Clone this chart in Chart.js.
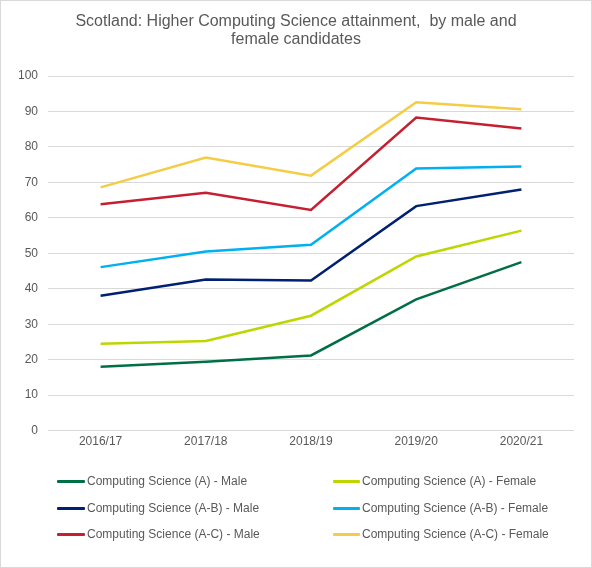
<!DOCTYPE html>
<html>
<head>
<meta charset="utf-8">
<script src="https://cdn.jsdelivr.net/npm/chart.js@4/dist/chart.umd.min.js"></script>
<style>
  html, body { margin: 0; padding: 0; background: #fff; }
  #wrap { position: relative; width: 592px; height: 568px; }
  #frame { position: absolute; left: 0; top: 0; width: 592px; height: 568px; box-sizing: border-box; border: 1px solid #d9d9d9; pointer-events: none; }
  #legend { position: absolute; left: 0; top: 0; width: 592px; height: 568px; pointer-events: none; font-family: "Liberation Sans", Arial, sans-serif; font-size: 12px; color: #595959; }
  .li { position: absolute; height: 14px; line-height: 14px; white-space: nowrap; }
  .sw { position: absolute; top: 6px; height: 3px; border-radius: 1px; }
  .tx { position: absolute; top: 0; }
</style>
</head>
<body>
<div id="wrap">
  <canvas id="c" width="592" height="568"></canvas>
  <div id="legend"></div>
  <div id="frame"></div>
</div>
<script>
const titleLines = ["Scotland: Higher Computing Science attainment,  by male and", "female candidates"];
const categories = ["2016/17", "2017/18", "2018/19", "2019/20", "2020/21"];
const seriesNames = [
  "Computing Science (A) - Male",
  "Computing Science (A) - Female",
  "Computing Science (A-B) - Male",
  "Computing Science (A-B) - Female",
  "Computing Science (A-C) - Male",
  "Computing Science (A-C) - Female"
];
const aMale    = [18.0, 19.4, 21.2, 37.0, 47.5];
const aFemale  = [24.5, 25.3, 32.4, 49.1, 56.4];
const abMale   = [38.0, 42.6, 42.3, 63.3, 68.0];
const abFemale = [46.1, 50.5, 52.4, 73.9, 74.5];
const acMale   = [63.8, 67.1, 62.2, 88.3, 85.2];
const acFemale = [68.6, 77.0, 71.9, 92.6, 90.6];
const yTicks = [0, 10, 20, 30, 40, 50, 60, 70, 80, 90, 100];

const seriesValues = [aMale, aFemale, abMale, abFemale, acMale, acFemale];
const colors = ["#006f45", "#bed600", "#002072", "#00b0f0", "#c51f32", "#f4cc46"];

const datasets = seriesNames.map((n, i) => ({
  label: n,
  data: seriesValues[i],
  borderColor: colors[i],
  backgroundColor: colors[i],
  borderWidth: 2.5,
  pointRadius: 0,
  pointHoverRadius: 0,
  tension: 0,
  fill: false
}));

const FONT = "'Liberation Sans', Arial, sans-serif";
const GREY = "#595959";

const chart = new Chart(document.getElementById('c'), {
  type: 'line',
  data: { labels: categories, datasets: datasets },
  options: {
    responsive: false,
    animation: false,
    devicePixelRatio: 1,
    layout: { padding: { top: 0, left: 18, right: 18, bottom: 115 } },
    plugins: {
      legend: { display: false },
      tooltip: { enabled: false },
      title: {
        display: true,
        text: titleLines,
        color: GREY,
        font: { family: FONT, size: 16, weight: 'normal', lineHeight: 1.125 },
        padding: { top: 13, bottom: 27 }
      }
    },
    scales: {
      x: {
        offset: true,
        grid: { display: false, drawTicks: false },
        border: { display: false },
        ticks: { color: GREY, font: { family: FONT, size: 12 }, padding: 4, maxRotation: 0 }
      },
      y: {
        min: 0, max: 100,
        afterBuildTicks: (s) => { s.ticks = yTicks.map(v => ({ value: v })); },
        afterFit: (s) => { s.width = 30; },
        grid: { color: "#d9d9d9", lineWidth: 1, drawTicks: false },
        border: { display: false },
        ticks: { color: GREY, font: { family: FONT, size: 12 }, padding: 10 }
      }
    }
  }
});

// HTML legend built from chart datasets
const legendEl = document.getElementById('legend');
const colX = [{ sw: 57, w: 28, tx: 87 }, { sw: 333, w: 27, tx: 362 }];
const rowY = [481, 508, 534];
chart.data.datasets.forEach((ds, i) => {
  const col = colX[i % 2];
  const row = rowY[Math.floor(i / 2)];
  const item = document.createElement('div');
  item.className = 'li';
  item.style.left = '0px';
  item.style.top = (row - 7) + 'px';
  const sw = document.createElement('div');
  sw.className = 'sw';
  sw.style.left = col.sw + 'px';
  sw.style.width = col.w + 'px';
  sw.style.background = ds.borderColor;
  const tx = document.createElement('div');
  tx.className = 'tx';
  tx.style.left = col.tx + 'px';
  tx.textContent = ds.label;
  item.appendChild(sw);
  item.appendChild(tx);
  legendEl.appendChild(item);
});
</script>
</body>
</html>
